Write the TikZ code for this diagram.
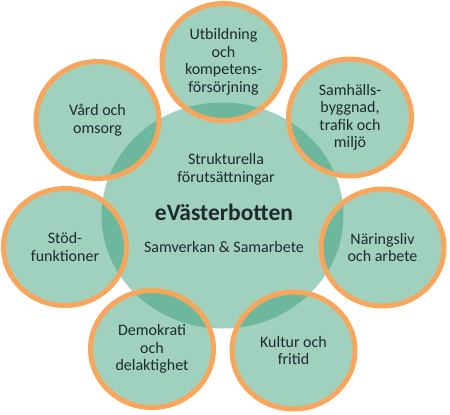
\documentclass[tikz,border=0pt]{standalone}
\usepackage{fontspec}
\setmainfont{Carlito}
\usetikzlibrary{shapes.geometric}
\definecolor{lightg}{HTML}{A0D1BF}
\definecolor{darkg}{HTML}{6DB89D}
\definecolor{orng}{HTML}{F8A65C}
\definecolor{txt}{HTML}{1E2A2E}
\begin{document}
\begin{tikzpicture}[x=1pt,y=-1pt,
  ring/.style={ellipse, draw=orng, line width=5pt, minimum width=123pt, minimum height=117pt, inner sep=0pt, align=center, text=txt, font=\fontsize{16}{17.5}\selectfont},
  ctxt/.style={text=txt, align=center, font=\fontsize{16}{18}\selectfont}]
\useasboundingbox (0,0) rectangle (450,415);
\def\positions{223.5/62, 97.5/120, 350/117.5, 65/247, 382.5/247.5, 152/349, 293.5/350.5}
% centre disc
\fill[lightg] (222.5,215.5) ellipse [x radius=121, y radius=113];
% small discs
\foreach \x/\y in \positions
  \fill[lightg] (\x,\y) ellipse [x radius=61.5, y radius=58.5];
% overlaps
\begin{scope}
  \clip (222.5,215.5) ellipse [x radius=121, y radius=113];
  \foreach \x/\y in \positions
    \fill[darkg] (\x,\y) ellipse [x radius=61.5, y radius=58.5];
\end{scope}
\node[ellipse, minimum width=242pt, minimum height=226pt, inner sep=0pt] (ctr) at (222.5,215.5) {};
\node[ctxt] (s1) at (226,169) {Strukturella\\förutsättningar};
\node[txt, font=\fontsize{23.5}{26}\selectfont\bfseries] (s2) at (224,212) {eVästerbotten};
\node[ctxt] (s3) at (224,247) {Samverkan \& Samarbete};
% rings with text
\node[ring] (utb) at (223.5,62) {Utbildning\\och\\kompetens-\\försörjning};
\node[ring] (vard) at (97.5,120) {Vård och\\omsorg};
\node[ring] (samh) at (350,117.5) {Samhälls-\\byggnad,\\trafik och\\miljö};
\node[ring] (stod) at (65,247) {Stöd-\\funktioner};
\node[ring] (nar) at (382.5,247.5) {Näringsliv\\och arbete};
\node[ring] (dem) at (152,349) {Demokrati\\och\\delaktighet};
\node[ring] (kul) at (293.5,350.5) {Kultur och\\fritid};
\end{tikzpicture}
\end{document}
